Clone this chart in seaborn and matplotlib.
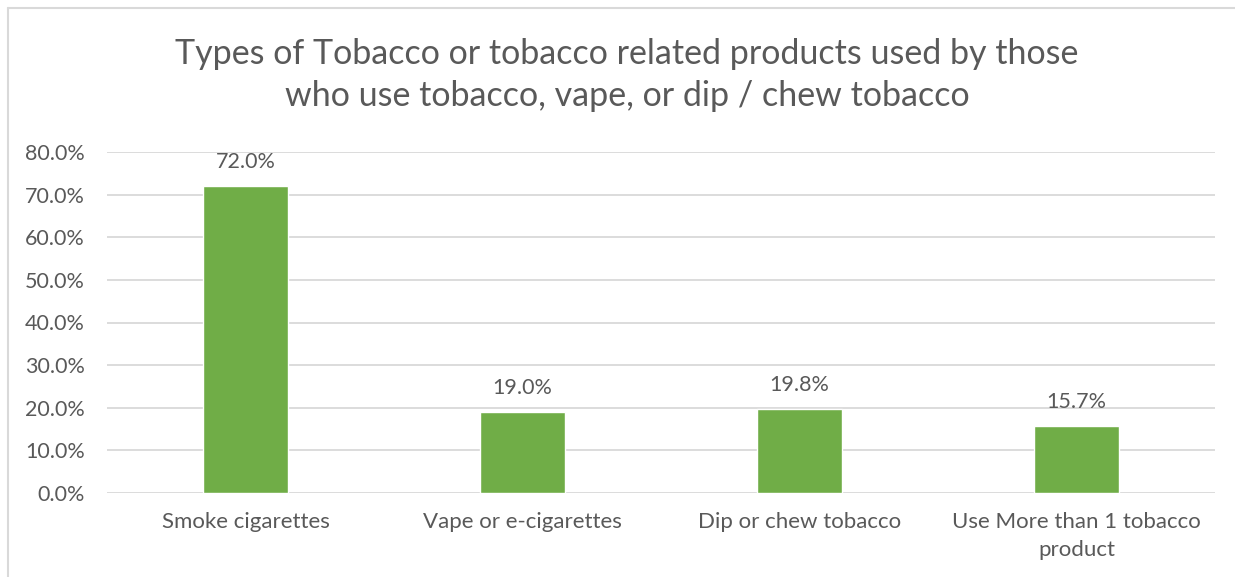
import matplotlib
matplotlib.use("Agg")
import matplotlib.pyplot as plt
import seaborn as sns
import pandas as pd
from matplotlib.lines import Line2D

categories = ["Smoke cigarettes", "Vape or e-cigarettes", "Dip or chew tobacco",
              "Use More than 1 tobacco\nproduct"]
values = [0.720, 0.190, 0.198, 0.157]
yticks = [0.0, 0.1, 0.2, 0.3, 0.4, 0.5, 0.6, 0.7, 0.8]
title = "Types of Tobacco or tobacco related products used by those\nwho use tobacco, vape, or dip / chew tobacco"

sns.set_theme(style="white")
plt.rcParams['font.family'] = ['Lato', 'DejaVu Sans']

text_color = "#595959"
grid_color = "#D9D9D9"
bar_color = "#70AD47"

df = pd.DataFrame({"cat": categories, "val": values})

fig = plt.figure(figsize=(12.35, 5.77), dpi=100)
W, H = 1235, 577
ax = fig.add_axes([107 / W, 84 / H, (1215 - 107) / W, (493 - 152) / H])

sns.barplot(data=df, x="cat", y="val", color=bar_color, width=0.31, ax=ax,
            saturation=1, zorder=3)

ax.set_ylim(0, 0.8)
ax.set_yticks(yticks)
ax.set_yticklabels([f"{v*100:.1f}%" for v in yticks], color=text_color, fontsize=15.5)
ax.set_xlim(-0.5, len(categories) - 0.5)
ax.tick_params(axis='x', labelsize=16, labelcolor=text_color, length=0, pad=14)
ax.tick_params(axis='y', length=0, pad=16)
for lbl in ax.get_xticklabels():
    lbl.set_linespacing(1.45)
ax.set_xlabel("")
ax.set_ylabel("")
ax.yaxis.grid(True, color=grid_color, linewidth=1.3, zorder=0)
for s in ax.spines.values():
    s.set_visible(False)

for i, v in enumerate(values):
    ax.annotate(f"{v*100:.1f}%", (i, v), xytext=(0, 10), textcoords="offset points",
                ha="center", va="bottom", fontsize=15.5, color=text_color)

fig.text(627 / W, 1 - 75 / H, title, ha="center", va="center", fontsize=24.5,
         color=text_color, linespacing=1.42)

# outer chart border
fig.add_artist(Line2D([7.5 / W, 1.0], [1 - 7.5 / H, 1 - 7.5 / H], transform=fig.transFigure,
                      color=grid_color, linewidth=1.5))
fig.add_artist(Line2D([7.5 / W, 7.5 / W], [0, 1 - 7.5 / H], transform=fig.transFigure,
                      color=grid_color, linewidth=1.5))

fig.savefig("out.png", dpi=100, facecolor="white")
